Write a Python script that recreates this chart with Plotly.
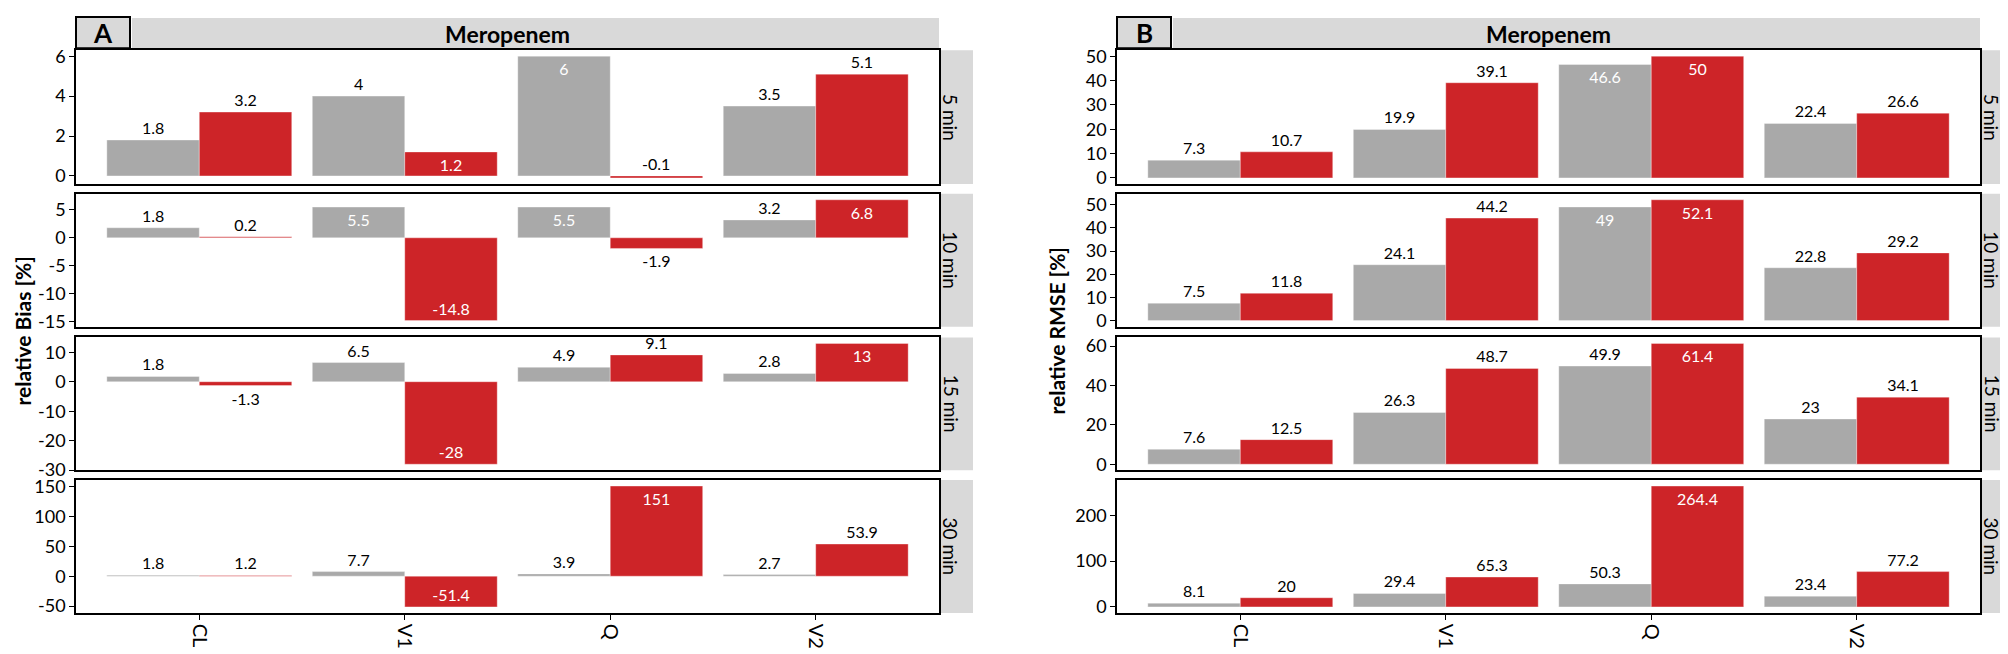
import math
import plotly.graph_objects as go

# --- data ---
CATEGORIES = ["CL", "V1", "Q", "V2"]
TIMES = ["5 min", "10 min", "15 min", "30 min"]
DRUG = "Meropenem"

# panel A: relative bias [%], grey series then red series, one list per time
BIAS_GREY = [
    [1.8, 4, 6, 3.5],
    [1.8, 5.5, 5.5, 3.2],
    [1.8, 6.5, 4.9, 2.8],
    [1.8, 7.7, 3.9, 2.7],
]
BIAS_RED = [
    [3.2, 1.2, -0.1, 5.1],
    [0.2, -14.8, -1.9, 6.8],
    [-1.3, -28, 9.1, 13],
    [1.2, -51.4, 151, 53.9],
]

# panel B: relative RMSE [%]
RMSE_GREY = [
    [7.3, 19.9, 46.6, 22.4],
    [7.5, 24.1, 49, 22.8],
    [7.6, 26.3, 49.9, 23],
    [8.1, 29.4, 50.3, 23.4],
]
RMSE_RED = [
    [10.7, 39.1, 50, 26.6],
    [11.8, 44.2, 52.1, 29.2],
    [12.5, 48.7, 61.4, 34.1],
    [20, 65.3, 264.4, 77.2],
]

# labels drawn in white inside the bar: (panel, row, series, category)
INSIDE = {
    ("A", 0, 0, "Q"), ("A", 0, 1, "V1"),
    ("A", 1, 0, "V1"), ("A", 1, 0, "Q"), ("A", 1, 1, "V1"), ("A", 1, 1, "V2"),
    ("A", 2, 1, "V1"), ("A", 2, 1, "V2"),
    ("A", 3, 1, "V1"), ("A", 3, 1, "Q"),
    ("B", 0, 0, "Q"), ("B", 0, 1, "Q"),
    ("B", 1, 0, "Q"), ("B", 1, 1, "Q"),
    ("B", 2, 1, "Q"),
    ("B", 3, 1, "Q"),
}
# tiny negative bars whose label sits above the zero line
ABOVE = {("A", 0, 1, "Q")}

W, H = 2008, 654
FONT = "Lato"
GREY = "#a9a9a9"
RED = "#cd2428"
STRIP = "#d9d9d9"
BAR_W = 0.45

PANELS = [
    dict(key="A", title="relative Bias [%]", grey=BIAS_GREY, red=BIAS_RED,
         x0=68, x1=931, dticks=[2, 5, 10, 50], title_x=15),
    dict(key="B", title="relative RMSE [%]", grey=RMSE_GREY, red=RMSE_RED,
         x0=1109, x1=1972, dticks=[10, 10, 20, 100], title_x=1049),
]
ROWS = [(38, 175), (185, 321), (332, 468), (478, 614)]


def px(x):
    return x / W


def py(y):
    return 1 - y / H


def label(x, y, text, size, angle=0, bold=False):
    return dict(xref="paper", yref="paper", x=px(x), y=py(y), text=text,
                xanchor="center", yanchor="middle", textangle=angle,
                showarrow=False,
                font=dict(family=FONT, size=size, color="black",
                          weight="bold" if bold else "normal"))


fig = go.Figure()
shapes = []
annotations = []
n = 0
for p in PANELS:
    for r, (top, bot) in enumerate(ROWS):
        n += 1
        xa = "x" if n == 1 else f"x{n}"
        ya = "y" if n == 1 else f"y{n}"
        vals = p["grey"][r] + p["red"][r]
        lo, hi = min(0, min(vals)), max(0, max(vals))
        pad = 0.05 * (hi - lo)
        rng = [lo - pad, hi + pad]
        dt = p["dticks"][r]
        tickvals = [k * dt for k in range(math.ceil(rng[0] / dt), math.floor(rng[1] / dt) + 1)]

        for s, (series, color) in enumerate([(p["grey"][r], GREY), (p["red"][r], RED)]):
            pos, txt = [], []
            for c, v in zip(CATEGORIES, series):
                key = (p["key"], r, s, c)
                pos.append("inside" if key in INSIDE else "outside")
                if key in ABOVE:
                    txt.append("")
                    annotations.append(dict(
                        xref=xa, yref=ya, x=CATEGORIES.index(c) + (s - 0.5) * BAR_W, y=0,
                        text=f"{v:g}", showarrow=False, xanchor="center",
                        yanchor="bottom", yshift=1,
                        font=dict(family=FONT, size=16, color="black")))
                else:
                    txt.append(f"{v:g}")
            fig.add_trace(go.Bar(
                x=CATEGORIES, y=series, xaxis=xa, yaxis=ya,
                marker=dict(color=color, line=dict(color="rgba(255,255,255,0.35)", width=1)),
                text=txt, textposition=pos,
                insidetextanchor="end", constraintext="none", cliponaxis=False,
                textfont=dict(family=FONT, size=16),
                outsidetextfont=dict(family=FONT, size=16, color="black"),
                insidetextfont=dict(family=FONT, size=16, color="white"),
                showlegend=False, hoverinfo="skip",
            ))

        last = r == len(ROWS) - 1
        fig.layout[f"xaxis{'' if n == 1 else n}"] = dict(
            domain=[px(p["x0"]), px(p["x1"])], anchor=ya,
            range=[-0.6, 3.6], type="category", categoryorder="array",
            categoryarray=CATEGORIES, showline=True, mirror=True,
            linecolor="black", linewidth=1.6, showgrid=False, zeroline=False,
            ticks="outside" if last else "", ticklen=5, tickcolor="black",
            showticklabels=last, tickangle=90,
            tickfont=dict(family=FONT, size=20, color="black"),
        )
        fig.layout[f"yaxis{'' if n == 1 else n}"] = dict(
            domain=[py(bot), py(top)], anchor=xa, range=rng,
            tickmode="array", tickvals=tickvals, ticktext=[f"{t:g}" for t in tickvals],
            showline=True, mirror=True, linecolor="black", linewidth=1.6,
            showgrid=False, zeroline=False, ticks="outside", ticklen=5,
            tickcolor="black", tickfont=dict(family=FONT, size=18, color="black"),
        )

        # right-hand strip with time label
        shapes.append(dict(type="rect", xref="paper", yref="paper",
                           x0=px(p["x1"] + 1), x1=px(p["x1"] + 34),
                           y0=py(bot), y1=py(top), fillcolor=STRIP, line=dict(width=0),
                           layer="below"))
        annotations.append(label(p["x1"] + 12, (top + bot) / 2, TIMES[r], 19, angle=90))

    # top strip, letter box and drug name
    shapes.append(dict(type="rect", xref="paper", yref="paper",
                       x0=px(p["x0"] + 56), x1=px(p["x1"]), y0=py(36), y1=py(5),
                       fillcolor=STRIP, line=dict(width=0), layer="below"))
    shapes.append(dict(type="rect", xref="paper", yref="paper",
                       x0=px(p["x0"]), x1=px(p["x0"] + 54), y0=py(36), y1=py(4),
                       fillcolor=STRIP, line=dict(color="black", width=2)))
    annotations.append(label(p["x0"] + 27, 20, p["key"], 26, bold=True))
    annotations.append(label((p["x0"] + p["x1"]) / 2, 21, DRUG, 23, bold=True))
    annotations.append(label(p["title_x"], (ROWS[0][0] + ROWS[-1][1]) / 2, p["title"], 21,
                             angle=-90, bold=True))

fig.update_layout(
    width=W, height=H, margin=dict(l=0, r=0, t=0, b=0),
    paper_bgcolor="white", plot_bgcolor="white",
    barmode="group", bargap=0.1, bargroupgap=0,
    shapes=shapes, annotations=annotations,
    font=dict(family=FONT, color="black"),
)

fig.write_html("out.html")
